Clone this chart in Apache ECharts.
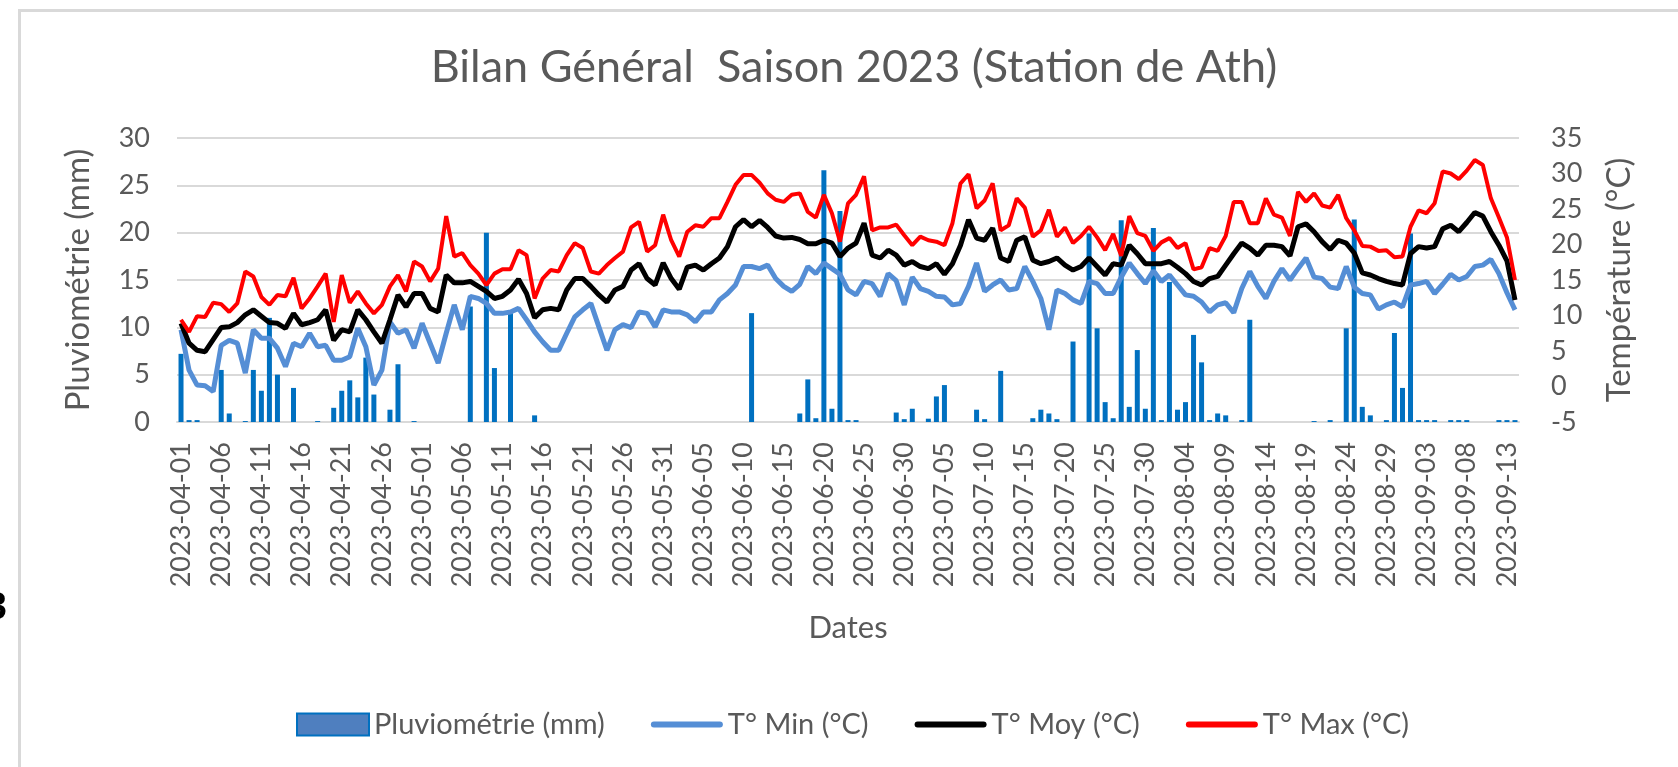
<!DOCTYPE html>
<html>
<head>
<meta charset="utf-8">
<title>Bilan Général Saison 2023 (Station de Ath)</title>
<script src="https://cdn.jsdelivr.net/npm/echarts@6/dist/echarts.min.js"></script>
<style>
  html, body { margin: 0; padding: 0; background: #fff; }
  #chart { width: 1678px; height: 767px; }
</style>
</head>
<body>
<div id="chart"></div>
<script>
// daily data, 2023-04-01 .. 2023-09-14 (167 days)
const startDate = "2023-04-01";
const dayCount = 167;

// rainfall (mm)
const pluie = [
  7.2, 0.2, 0.2, 0, 0, 5.5, 0.9, 0, 0.1, 5.5, 3.3, 11.0, 5.0, 0, 3.6, 0, 0, 0.1, 0, 1.5,
  3.3, 4.4, 2.6, 6.8, 2.9, 0, 1.3, 6.1, 0, 0.1, 0, 0, 0, 0, 0, 0, 12.2, 0, 20.0, 5.7,
  0, 11.5, 0, 0, 0.7, 0, 0, 0, 0, 0, 0, 0, 0, 0, 0, 0, 0, 0, 0, 0,
  0, 0, 0, 0, 0, 0, 0, 0, 0, 0, 0, 11.5, 0, 0, 0, 0, 0, 0.9, 4.5, 0.4,
  26.6, 1.4, 22.3, 0.2, 0.2, 0, 0, 0, 0, 1.0, 0.3, 1.4, 0, 0.35, 2.7, 3.9, 0, 0, 0, 1.3,
  0.3, 0, 5.4, 0, 0, 0, 0.4, 1.3, 0.9, 0.3, 0, 8.5, 0, 19.9, 9.9, 2.1, 0.4, 21.3, 1.6, 7.6,
  1.4, 20.5, 0.2, 14.8, 1.3, 2.1, 9.2, 6.3, 0.2, 0.9, 0.7, 0, 0.2, 10.8, 0, 0, 0, 0, 0, 0,
  0, 0.1, 0, 0.2, 0, 9.9, 21.4, 1.6, 0.7, 0, 0.2, 9.4, 3.6, 19.9, 0.2, 0.2, 0.2, 0, 0.2, 0.2,
  0.2, 0, 0, 0, 0.2, 0.2, 0.2
];

// minimum temperature (°C)
const tMin = [
  8.0, 2.3, 0.2, 0.1, -0.7, 5.8, 6.5, 6.1, 1.9, 8.0, 6.8, 6.8, 5.4, 2.8, 6.1, 5.6, 7.5, 5.6, 5.8, 3.7,
  3.7, 4.2, 8.2, 5.6, 0.2, 2.3, 9.1, 7.5, 8.0, 5.4, 8.9, 6.1, 3.3, 7.5, 11.5, 8.0, 12.7, 12.4, 11.7, 10.3,
  10.3, 10.5, 11.0, 9.4, 7.7, 6.3, 5.1, 5.1, 7.5, 9.8, 10.8, 11.7, 8.4, 5.1, 8.0, 8.7, 8.3, 10.5, 10.3, 8.4,
  10.8, 10.5, 10.5, 10.1, 9.1, 10.5, 10.5, 12.2, 13.1, 14.3, 16.9, 16.9, 16.6, 17.1, 15.2, 14.1, 13.4, 14.4, 16.9, 15.9,
  17.4, 16.6, 15.8, 13.6, 12.9, 14.8, 14.5, 12.7, 15.9, 14.9, 11.5, 15.4, 13.8, 13.4, 12.7, 12.6, 11.5, 11.7, 14.1, 17.4,
  13.4, 14.3, 15.0, 13.6, 13.8, 16.9, 14.8, 12.4, 8.0, 13.6, 13.1, 12.2, 11.7, 14.8, 14.5, 13.1, 13.1, 15.4, 17.4, 15.9,
  14.5, 16.3, 14.8, 15.7, 14.3, 12.9, 12.7, 11.9, 10.5, 11.5, 11.8, 10.4, 13.8, 16.2, 14.1, 12.4, 14.8, 16.6, 15.0, 16.6,
  18.1, 15.4, 15.2, 14.0, 13.8, 16.9, 14.0, 13.1, 12.9, 10.9, 11.5, 11.9, 11.2, 14.3, 14.5, 14.8, 13.1, 14.4, 15.8, 15.0,
  15.5, 16.9, 17.1, 17.9, 15.9, 13.2, 10.8
];

// mean temperature (°C)
const tMoy = [
  8.9, 6.1, 5.1, 4.9, 6.6, 8.3, 8.4, 9.0, 10.1, 10.8, 9.9, 9.0, 8.9, 8.2, 10.3, 8.7, 9.0, 9.4, 10.8, 6.5,
  8.0, 7.7, 10.8, 9.4, 7.7, 6.1, 9.4, 12.9, 11.2, 13.1, 13.1, 11.0, 10.5, 15.7, 14.6, 14.6, 14.8, 14.1, 13.4, 12.4,
  12.7, 13.6, 15.1, 13.1, 9.7, 10.8, 11.0, 10.8, 13.6, 15.2, 15.2, 14.1, 12.9, 11.9, 13.6, 14.1, 16.4, 17.3, 15.2, 14.3,
  17.4, 15.2, 13.7, 16.8, 17.1, 16.4, 17.3, 18.1, 19.7, 22.5, 23.5, 22.5, 23.4, 22.4, 21.2, 20.9, 21.0, 20.7, 20.1, 20.1,
  20.6, 20.2, 18.3, 19.5, 20.2, 23.0, 18.5, 18.1, 19.2, 18.5, 17.1, 17.6, 16.9, 16.6, 17.3, 15.8, 17.3, 19.9, 23.5, 20.9,
  20.6, 22.3, 18.1, 17.6, 20.6, 21.1, 17.8, 17.3, 17.6, 18.1, 17.1, 16.4, 16.9, 18.1, 16.9, 15.7, 17.3, 17.1, 19.9, 18.7,
  17.3, 17.3, 17.3, 17.6, 16.8, 15.9, 14.8, 14.3, 15.2, 15.5, 17.1, 18.7, 20.2, 19.5, 18.5, 19.9, 19.9, 19.7, 18.4, 22.5,
  22.9, 21.8, 20.4, 19.3, 20.6, 20.2, 18.8, 16.0, 15.7, 15.2, 14.8, 14.5, 14.3, 18.7, 19.7, 19.5, 19.7, 22.2, 22.7, 21.8,
  23.1, 24.5, 24.0, 21.8, 19.9, 17.7, 12.2
];

// maximum temperature (°C)
const tMax = [
  9.4, 7.7, 9.9, 9.8, 11.8, 11.6, 10.5, 11.7, 16.2, 15.5, 12.6, 11.5, 12.9, 12.7, 15.3, 11.0, 12.4, 14.1, 15.9, 9.1,
  15.7, 11.8, 13.4, 11.7, 10.3, 11.5, 14.1, 15.7, 13.4, 17.6, 16.9, 14.8, 16.6, 24.0, 18.3, 18.8, 17.1, 15.9, 14.3, 15.9,
  16.5, 16.5, 19.2, 18.5, 12.4, 15.2, 16.4, 16.2, 18.5, 20.2, 19.5, 16.2, 15.9, 17.1, 18.1, 19.0, 22.4, 23.2, 19.0, 19.9,
  24.2, 20.6, 18.3, 21.8, 22.7, 22.5, 23.7, 23.7, 26.0, 28.4, 29.8, 29.8, 28.7, 27.2, 26.3, 26.0, 27.0, 27.2, 24.6, 23.8,
  27.0, 24.4, 20.4, 25.8, 27.0, 29.6, 22.0, 22.4, 22.4, 22.8, 21.3, 19.9, 21.1, 20.6, 20.4, 19.9, 23.0, 28.6, 29.9, 25.1,
  26.2, 28.6, 22.0, 22.7, 26.5, 25.2, 21.1, 22.0, 24.9, 21.1, 22.4, 20.2, 21.2, 22.5, 21.0, 19.2, 21.5, 18.4, 24.0, 21.6,
  21.2, 19.1, 20.3, 20.9, 19.5, 20.2, 16.5, 16.8, 19.5, 19.1, 21.2, 26.0, 26.0, 23.0, 23.0, 26.5, 24.2, 23.8, 21.2, 27.4,
  26.0, 27.2, 25.5, 25.2, 27.0, 23.7, 22.0, 19.8, 19.7, 19.1, 19.2, 18.2, 18.3, 22.5, 24.8, 24.4, 25.8, 30.3, 30.0, 29.2,
  30.4, 31.9, 31.2, 26.5, 23.8, 21.0, 15.0
];

// category labels
const dates = [];
const d0 = new Date(startDate + "T00:00:00Z");
for (let i = 0; i < dayCount; i++) {
  const d = new Date(d0.getTime() + i * 86400000);
  dates.push(d.toISOString().slice(0, 10));
}

const FONT = "Lato";
const GREY = "#595959";
const GRID_GREY = "#D9D9D9";
// flat bar used as the legend mark of the line series
const LINE_ICON = "path://M3,0 L69,0 A3,3 0 0 1 69,6 L3,6 A3,3 0 0 1 3,0 Z";

const chart = echarts.init(document.getElementById("chart"), null, { renderer: "canvas" });

const option = {
  backgroundColor: "#fff",
  animation: false,
  textStyle: { fontFamily: FONT },
  title: {
    text: "Bilan Général  Saison 2023 (Station de Ath)",
    left: 849,
    top: 40,
    textAlign: "center",
    textStyle: { fontFamily: FONT, fontSize: 45, fontWeight: "normal", color: GREY },
  },
  grid: { left: 177, right: 159, top: 138, bottom: 345 },
  legend: {
    left: 291,
    top: 705,
    itemWidth: 72,
    itemHeight: 22,
    itemGap: 46,
    textStyle: { fontFamily: FONT, fontSize: 29, color: GREY },
    data: [
      { name: "Pluviométrie (mm)", icon: "rect", itemStyle: { color: "#4F7FBF", borderColor: "#0070C0", borderWidth: 2 } },
      { name: "T° Min (°C)", icon: LINE_ICON },
      { name: "T° Moy (°C)", icon: LINE_ICON },
      { name: "T° Max (°C)", icon: LINE_ICON },
    ],
  },
  xAxis: {
    type: "category",
    data: dates,
    boundaryGap: true,
    name: "Dates",
    nameLocation: "middle",
    nameGap: 190,
    nameTextStyle: { fontFamily: FONT, fontSize: 31, color: GREY },
    axisTick: { show: false },
    axisLine: { lineStyle: { color: GRID_GREY, width: 2 } },
    axisLabel: { rotate: 90, interval: 4, margin: 20, fontFamily: FONT, fontSize: 27, color: GREY },
  },
  yAxis: [
    {
      type: "value",
      min: 0,
      max: 30,
      interval: 5,
      name: "Pluviométrie (mm)",
      nameLocation: "middle",
      nameGap: 82,
      nameTextStyle: { fontFamily: FONT, fontSize: 33, color: GREY },
      axisLine: { show: false },
      axisTick: { show: false },
      axisLabel: { margin: 27, fontFamily: FONT, fontSize: 27, color: GREY },
      splitLine: { lineStyle: { color: GRID_GREY, width: 2 } },
    },
    {
      type: "value",
      position: "right",
      min: -5,
      max: 35,
      interval: 5,
      name: "Température (°C)",
      nameLocation: "middle",
      nameGap: 84,
      nameTextStyle: { fontFamily: FONT, fontSize: 33, color: GREY },
      axisLine: { show: false },
      axisTick: { show: false },
      axisLabel: { margin: 32, fontFamily: FONT, fontSize: 27, color: GREY },
      splitLine: { show: false },
    },
  ],
  series: [
    {
      name: "Pluviométrie (mm)",
      type: "bar",
      yAxisIndex: 0,
      barWidth: 5,
      itemStyle: { color: "#0070C0" },
      data: pluie,
    },
    {
      name: "T° Min (°C)",
      type: "line",
      yAxisIndex: 1,
      symbol: "none",
      itemStyle: { color: "#558ED5" },
      lineStyle: { color: "#558ED5", width: 5 },
      data: tMin,
    },
    {
      name: "T° Moy (°C)",
      type: "line",
      yAxisIndex: 1,
      symbol: "none",
      itemStyle: { color: "#000000" },
      lineStyle: { color: "#000000", width: 5 },
      data: tMoy,
    },
    {
      name: "T° Max (°C)",
      type: "line",
      yAxisIndex: 1,
      symbol: "none",
      itemStyle: { color: "#FF0000" },
      lineStyle: { color: "#FF0000", width: 4 },
      data: tMax,
    },
  ],
  graphic: [
    // chart frame
    {
      type: "rect",
      left: 17,
      top: 8,
      shape: { width: 1670, height: 800 },
      style: { fill: "none", stroke: GRID_GREY, lineWidth: 3 },
      silent: true,
    },
    // clipped glyph at the left edge of the screenshot
    {
      type: "text",
      x: 7,
      y: 590,
      style: { text: "3", fontFamily: "Liberation Sans", fontSize: 38, fontWeight: "bold", fill: "#000", align: "right" },
      silent: true,
    },
  ],
};

chart.setOption(option);
</script>
</body>
</html>
